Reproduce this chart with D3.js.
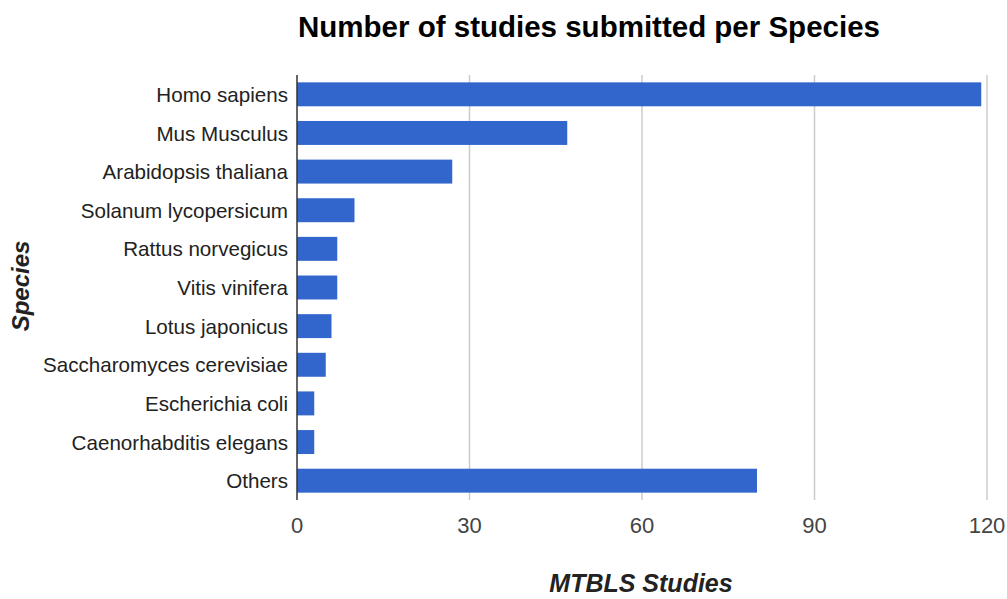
<!DOCTYPE html>
<html>
<head>
<meta charset="utf-8">
<script src="https://cdnjs.cloudflare.com/ajax/libs/d3/7.8.5/d3.min.js"></script>
<style>
  body { margin: 0; background: #fff; }
  text { font-family: "Liberation Sans", Arial, sans-serif; }
</style>
</head>
<body>
<div id="chart"></div>
<script>
// data
var species = ["Homo sapiens", "Mus Musculus", "Arabidopsis thaliana", "Solanum lycopersicum",
  "Rattus norvegicus", "Vitis vinifera", "Lotus japonicus", "Saccharomyces cerevisiae",
  "Escherichia coli", "Caenorhabditis elegans", "Others"];
var studies = [119, 47, 27, 10, 7, 7, 6, 5, 3, 3, 80];
var xTicks = [0, 30, 60, 90, 120];

var width = 1007, height = 599;
var margin = { top: 75, right: 20, bottom: 99, left: 297 };
var plotW = 987 - margin.left,
    plotH = height - margin.top - margin.bottom;

var svg = d3.select("#chart").append("svg")
  .attr("width", width)
  .attr("height", height);

var g = svg.append("g")
  .attr("transform", "translate(" + margin.left + "," + margin.top + ")");

var x = d3.scaleLinear().domain([0, 120]).range([0, plotW]);
var y = d3.scaleBand().domain(species).range([0, plotH]).paddingInner(0.38).paddingOuter(0.19);

// gridlines
g.selectAll(".grid")
  .data(xTicks.slice(1))
  .enter().append("line")
  .attr("class", "grid")
  .attr("x1", function (d) { return x(d); })
  .attr("x2", function (d) { return x(d); })
  .attr("y1", 0)
  .attr("y2", plotH)
  .attr("stroke", "#cccccc")
  .attr("stroke-width", 1.5);

// bars
g.selectAll(".bar")
  .data(studies)
  .enter().append("rect")
  .attr("class", "bar")
  .attr("x", 0)
  .attr("y", function (d, i) { return y(species[i]); })
  .attr("width", function (d) { return x(d); })
  .attr("height", y.bandwidth())
  .attr("fill", "#3366cc");

// baseline
g.append("line")
  .attr("x1", 0).attr("x2", 0)
  .attr("y1", 0).attr("y2", plotH)
  .attr("stroke", "#333333")
  .attr("stroke-width", 1.5);

// x tick labels
g.selectAll(".xtick")
  .data(xTicks)
  .enter().append("text")
  .attr("class", "xtick")
  .attr("x", function (d) { return x(d); })
  .attr("y", plotH + 33)
  .attr("text-anchor", "middle")
  .style("font-size", "22px")
  .style("fill", "#444")
  .text(function (d) { return d; });

// category labels
g.selectAll(".ylab")
  .data(species)
  .enter().append("text")
  .attr("class", "ylab")
  .attr("x", -9)
  .attr("y", function (d) { return y(d) + y.bandwidth() / 2; })
  .attr("dy", "0.37em")
  .attr("text-anchor", "end")
  .style("font-size", "20.6px")
  .style("fill", "#222")
  .text(function (d) { return d; });

// title
svg.append("text")
  .attr("x", 589)
  .attr("y", 37)
  .attr("text-anchor", "middle")
  .style("font-size", "29.5px")
  .style("font-weight", "bold")
  .style("fill", "#000")
  .text("Number of studies submitted per Species");

// axis titles
svg.append("text")
  .attr("x", 641)
  .attr("y", 592)
  .attr("text-anchor", "middle")
  .style("font-size", "25px")
  .style("font-weight", "bold")
  .style("font-style", "italic")
  .style("fill", "#222")
  .text("MTBLS Studies");

svg.append("text")
  .attr("transform", "translate(29,286) rotate(-90)")
  .attr("text-anchor", "middle")
  .style("font-size", "24px")
  .style("font-weight", "bold")
  .style("font-style", "italic")
  .style("fill", "#222")
  .text("Species");
</script>
</body>
</html>
